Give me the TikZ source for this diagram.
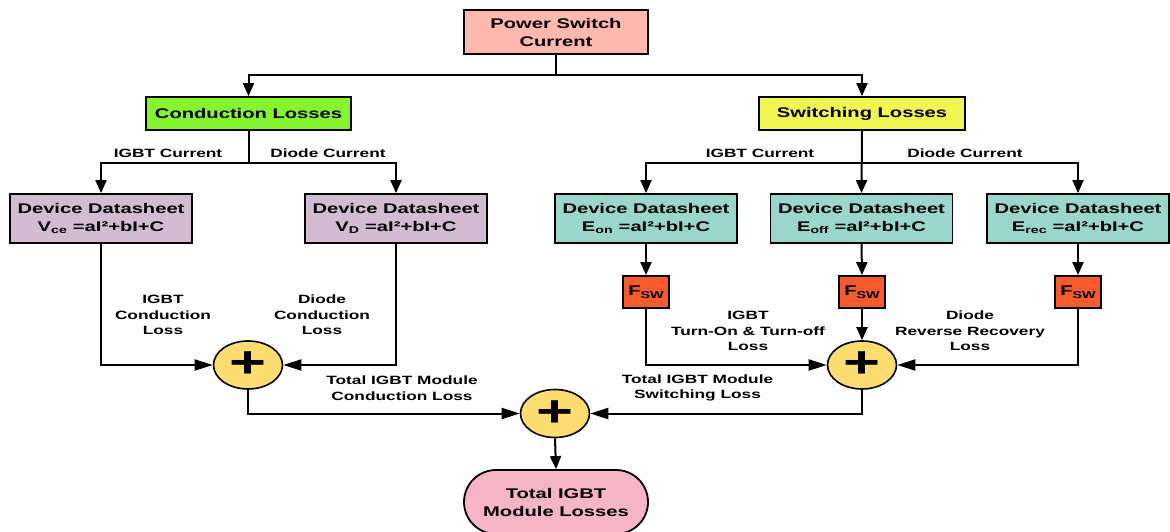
\documentclass[tikz,border=0pt]{standalone}
\usepackage{fontspec}
\setmainfont{Liberation Sans}[FakeStretch=1.44]
\usetikzlibrary{arrows.meta,shapes.geometric,shapes.misc}
\definecolor{cPower}{HTML}{FFB8AE}
\definecolor{cCond}{HTML}{84F42E}
\definecolor{cSw}{HTML}{F0F552}
\definecolor{cPurp}{HTML}{D3BCD3}
\definecolor{cTeal}{HTML}{9AD6CB}
\definecolor{cFsw}{HTML}{F65A2D}
\definecolor{cSum}{HTML}{FDDC70}
\definecolor{cTot}{HTML}{F6B4C8}
\newcommand{\sub}[1]{\textsubscript{#1}}
\newcommand{\fsw}{F{\fontsize{10}{10}\selectfont\raisebox{-2.5pt}{SW}}}
\begin{document}
\begin{tikzpicture}[x=1pt,y=-1pt,
  box/.style={draw=black, line width=1.8pt, inner sep=0pt, align=center,
    font=\fontsize{14}{18}\selectfont\bfseries, text=black},
  lbl/.style={align=center, inner sep=0pt, font=\fontsize{12}{15.5}\selectfont\bfseries, text=black},
  sumnode/.style={ellipse, draw=black, line width=1.6pt, fill=cSum, inner sep=0pt,
    minimum width=69pt, minimum height=48pt, font=\fontsize{44}{44}\selectfont\bfseries},
  ln/.style={line width=2pt},
  varr/.style={line width=2pt, -{Triangle[length=13pt,width=11pt]}},
  harr/.style={line width=2pt, -{Triangle[length=18pt,width=11pt]}}
]
\useasboundingbox (0,0) rectangle (1170,532);
\clip (0,0) rectangle (1170,532);

% top
\node[box, fill=cPower, minimum width=184pt, minimum height=44pt] (psc) at (556,32) {Power Switch\\Current};
\node[box, fill=cCond, minimum width=205pt, minimum height=33pt] (cond) at (248.5,113.5) {Conduction Losses};
\node[box, fill=cSw, minimum width=206pt, minimum height=33pt] (sw) at (862,113.5) {Switching Losses};

% datasheets
\node[box, fill=cPurp, minimum width=182pt, minimum height=49pt] (dv) at (101,218.5) {Device Datasheet\\V\sub{ce} =aI²+bI+C};
\node[box, fill=cPurp, minimum width=182pt, minimum height=49pt] (dd) at (396,218.5) {Device Datasheet\\V\sub{D} =aI²+bI+C};
\node[box, fill=cTeal, minimum width=182pt, minimum height=49pt] (don) at (646,218.5) {Device Datasheet\\E\sub{on} =aI²+bI+C};
\node[box, fill=cTeal, minimum width=182pt, minimum height=49pt] (doff) at (861.5,218.5) {Device Datasheet\\E\sub{off} =aI²+bI+C};
\node[box, fill=cTeal, minimum width=182pt, minimum height=49pt] (drec) at (1078,218.5) {Device Datasheet\\E\sub{rec} =aI²+bI+C};

% Fsw
\node[box, fill=cFsw, minimum width=46pt, minimum height=32pt] (f1) at (646,292) {\fsw};
\node[box, fill=cFsw, minimum width=46pt, minimum height=32pt] (f2) at (862,292) {\fsw};
\node[box, fill=cFsw, minimum width=46pt, minimum height=32pt] (f3) at (1078,292) {\fsw};

% sums
\node[sumnode] (s1) at (248,365) {+};
\node[sumnode] (s3) at (862,365) {+};
\node[sumnode] (s2) at (555,413.5) {+};

% total
\node[box, fill=cTot, rounded rectangle, minimum width=184pt, minimum height=64pt] (tot) at (556,502) {Total IGBT\\Module Losses};

% junctions
\coordinate (j0) at (556,75);
\coordinate (j1) at (248.5,163);
\coordinate (j2) at (862,163);

% connectors top
\draw[ln] (psc.south) -- (j0);
\draw[varr] (j0) -| (cond.north);
\draw[varr] (j0) -| (sw.north);
\draw[ln] (cond.south) -- (j1);
\draw[varr] (j1) -| (dv.north);
\draw[varr] (j1) -| (dd.north);
\draw[varr] (sw.south) -- (doff.north);
\draw[varr] (j2) -| (don.north);
\draw[varr] (j2) -| (drec.north);

% datasheet to fsw
\draw[varr] (don.south) -- (f1.north);
\draw[varr] (doff.south) -- (f2.north);
\draw[varr] (drec.south) -- (f3.north);

% to sums
\draw[harr] (dv.south) |- (s1.west);
\draw[harr] (dd.south) |- (s1.east);
\draw[harr] (f1.south) |- (s3.west);
\draw[varr] (f2.south) -- (s3.north);
\draw[harr] (f3.south) |- (s3.east);
\draw[harr] (s1.south) |- (s2.west);
\draw[harr] (s3.south) |- (s2.east);
\draw[varr] (s2.south) -- (tot.north);

% labels
\node[lbl] (l1) at (168,153) {IGBT Current};
\node[lbl] (l2) at (328,153) {Diode Current};
\node[lbl] (l3) at (760,153) {IGBT Current};
\node[lbl] (l4) at (965,153) {Diode Current};
\node[lbl] (l5) at (163,315) {IGBT\\Conduction\\Loss};
\node[lbl] (l6) at (322,315) {Diode\\Conduction\\Loss};
\node[lbl] (l7) at (402,388) {Total IGBT Module\\Conduction Loss};
\node[lbl] (l8) at (748,331) {IGBT\\Turn-On \& Turn-off\\Loss};
\node[lbl] (l9) at (970,331) {Diode\\Reverse Recovery\\Loss};
\node[lbl] (l10) at (697.5,388) {Total IGBT Module\\Switching Loss};
\end{tikzpicture}
\end{document}
